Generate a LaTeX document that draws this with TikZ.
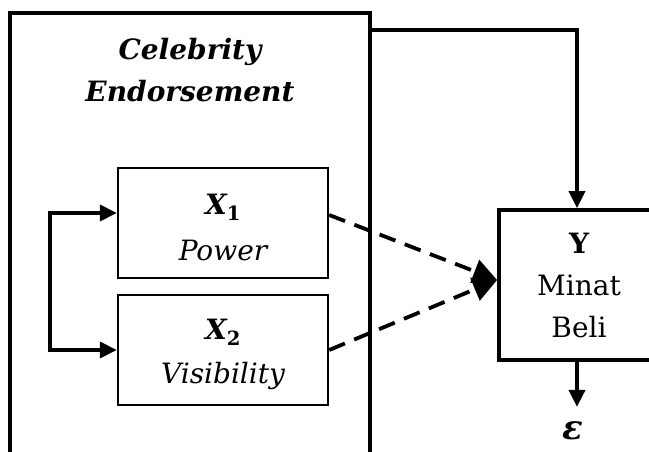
\documentclass[tikz,border=0pt]{standalone}
\usepackage{fontspec}
\setmainfont{DejaVu Serif}
\usetikzlibrary{arrows.meta,positioning}

\tikzset{
  bigfont/.style={font=\fontsize{28}{42}\selectfont},
  varbox/.style={draw, line width=2.4pt, minimum width=210pt, minimum height=110pt, align=center, inner sep=0pt, bigfont},
  mainbox/.style={draw, line width=3.8pt, align=center, inner sep=0pt, bigfont},
  link/.style={line width=3.8pt, -{Triangle[length=17pt,width=16pt]}},
  effect/.style={line width=3.8pt, dash pattern=on 17pt off 10pt, -{Triangle[length=24pt,width=24pt]}}
}

\begin{document}
\begin{tikzpicture}[x=1pt,y=1pt]
\useasboundingbox[fill=white] (0.000000,0.000000) rectangle (649.000000,451.000000);
% Drawing boxes
\node[mainbox, minimum width=360pt, minimum height=468pt] (ce) at (190.000000,204.000000) {};
\node[bigfont, align=center, font=\bfseries\itshape\fontsize{28}{42}\selectfont] (title) at (190.000000,381.000000) {Celebrity\\Endorsement};
\node[varbox] (x1) at (223.000000,228.000000) {\\[-12pt]{\bfseries\itshape X\textsubscript{\upshape 1}}\\[4pt]{\itshape Power}};
\node[varbox] (x2) at (223.000000,101.000000) {\\[-12pt]{\bfseries\itshape X\textsubscript{\upshape 2}}\\[2pt]{\itshape Visibility}};
\node[mainbox, minimum width=160pt, minimum height=150pt] (y) at (579.000000,166.000000) {{\bfseries Y}\\Minat\\Beli};
\node[below=60pt of y, xshift=-6pt, inner sep=0pt, font=\bfseries\itshape\fontsize{34}{40}\selectfont] (eps) {ε};
% Done with boxes; drawing connectors
\coordinate (top) at (577.000000,421.000000);
\coordinate (br) at (50.000000,101.000000);
\draw[link] (ce.east |- top) -- (top) -- (top |- y.north);
\draw[link, {Triangle[length=17pt,width=16pt]}-{Triangle[length=17pt,width=16pt]}] ([yshift=10pt]x1.west) -| (br) -- (x2.west);
\draw[effect] ([yshift=8pt]x1.east) -- ([yshift=5pt]y.west);
\draw[effect] (x2.east) -- ([yshift=5pt]y.west);
\draw[link, shorten >=15pt] (top |- y.south) -- (top |- eps.north);
% Done with connectors
\end{tikzpicture}
\end{document}
